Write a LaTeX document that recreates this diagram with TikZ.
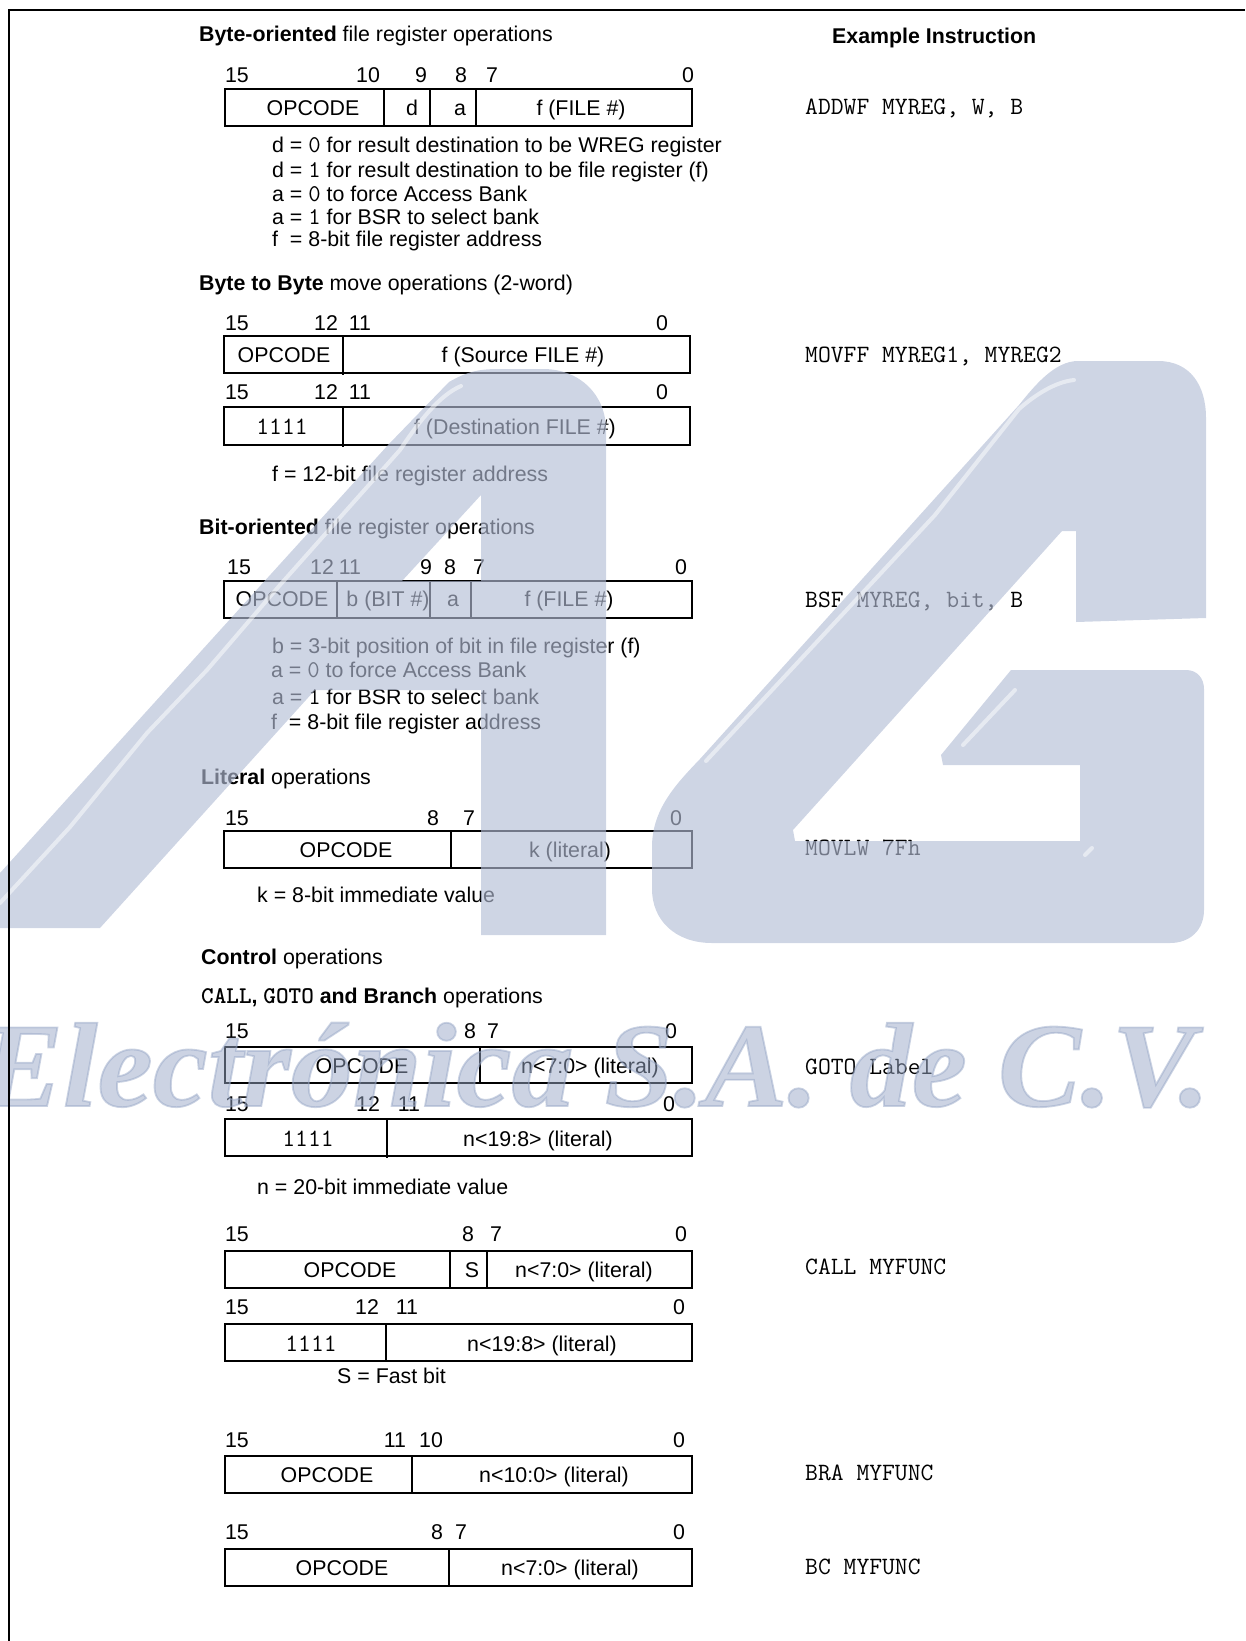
\documentclass[tikz,border=0pt]{standalone}
\usepackage{xcolor}
\usepackage{fontspec}
\setmainfont{Liberation Sans}
\newfontfamily\markfont[FakeBold=1.5]{Liberation Serif Bold Italic}
\usetikzlibrary{positioning}
\definecolor{markblue}{HTML}{B3BDD5}
\definecolor{wordblue}{HTML}{99A8C7}
\newcommand{\codefig}[1]{{\ttfamily\fontsize{24}{25}\selectfont #1}}

\begin{document}
\begin{tikzpicture}[
    x=1pt, y=-1pt,
    txt/.style={inner sep=0pt, text height=17pt, text depth=2pt, font=\fontsize{21.35}{25}\selectfont},
    heading/.style={txt, anchor=west},
    notes/.style={txt, anchor=west},
    bitno/.style={txt},
    cell/.style={txt},
    code/.style={inner sep=0pt, anchor=west, text height=17pt, text depth=2pt, font=\ttfamily\fontsize{24.9}{28}\selectfont},
    codecell/.style={code, anchor=center},
    regbox/.style={draw=black, line width=2.4pt},
    split/.style={draw=black, line width=1.6pt},
    frame/.style={draw=black, line width=2.6pt},
    logoshape/.style={fill=markblue, draw=none, opacity=0.64, even odd rule},
    glint/.style={draw=white, line width=4pt, opacity=0.5, line cap=round}
]
\useasboundingbox (0,0) rectangle (1245,1641);

\node[heading] (head1) at (199,34) {\textbf{Byte-oriented} file register operations};
\node[heading] (headex) at (832,36) {\textbf{Example Instruction}};
\node[bitno] (a15) at (237,75) {15};
\node[bitno] (a10) at (368,75) {10};
\node[bitno] (a9) at (421,75) {9};
\node[bitno] (a8) at (461,75) {8};
\node[bitno] (a7) at (492,75) {7};
\node[bitno] (a0) at (688,75) {0};
\draw[regbox] (225,89) rectangle (692,126);
\draw[split] (384,89) -- (384,126);
\draw[split] (430,89) -- (430,126);
\draw[split] (476,89) -- (476,126);
\node[cell] (aop) at (313,108) {OPCODE};
\node[cell] (ad) at (412,108) {d};
\node[cell] (aa) at (460,108) {a};
\node[cell] (af) at (581,108) {f (FILE \#)};
\node[code] (axa) at (805,107) {ADDWF MYREG, W, B};
\node[notes] (an1) at (272,145) {d = \codefig{0} for result destination to be WREG register};
\node[notes] (an2) at (272,170) {d = \codefig{1} for result destination to be file register (f)};
\node[notes] (an3) at (272,194) {a = \codefig{0} to force Access Bank};
\node[notes] (an4) at (272,217) {a = \codefig{1} for BSR to select bank};
\node[notes] (an5) at (272,239) {f\ \ = 8-bit file register address};

\node[heading] (head2) at (199,283) {\textbf{Byte to Byte} move operations (2-word)};
\node[bitno] (b15) at (237,323) {15};
\node[bitno] (b12) at (326,323) {12};
\node[bitno] (b11) at (360,323) {11};
\node[bitno] (b0) at (662,323) {0};
\draw[regbox] (224,336) rectangle (690,373);
\draw[split] (343,336) -- (343,375);
\node[cell] (bop) at (284,355) {OPCODE};
\node[cell] (bf) at (523,355) {f (Source FILE \#)};
\node[code] (bxa) at (805,355) {MOVFF MYREG1, MYREG2};
\node[bitno] (c15) at (237,392) {15};
\node[bitno] (c12) at (326,392) {12};
\node[bitno] (c11) at (360,392) {11};
\node[bitno] (c0) at (662,392) {0};
\draw[regbox] (224,407) rectangle (690,445);
\draw[split] (343,407) -- (343,447);
\node[codecell] (cop) at (282,427) {1111};
\node[cell] (cf) at (515,427) {f (Destination FILE \#)};
\node[notes] (cn1) at (272,474) {f = 12-bit file register address};

\node[heading] (head3) at (199,527) {\textbf{Bit-oriented} file register operations};
\node[bitno] (d15) at (239,567) {15};
\node[bitno] (d12) at (322,567) {12};
\node[bitno] (d11) at (350,567) {11};
\node[bitno] (d9) at (426,567) {9};
\node[bitno] (d8) at (450,567) {8};
\node[bitno] (d7) at (479,567) {7};
\node[bitno] (d0) at (681,567) {0};
\draw[regbox] (224,581) rectangle (692,618);
\draw[split] (337,581) -- (337,618);
\draw[split] (430,581) -- (430,618);
\draw[split] (471,581) -- (471,618);
\node[cell] (dop) at (282,599) {OPCODE};
\node[cell] (db) at (388,599) {b (BIT \#)};
\node[cell] (da) at (453,599) {a};
\node[cell] (df) at (569,599) {f (FILE \#)};
\node[code] (dxa) at (805,600) {BSF MYREG, bit, B};
\node[notes] (dn1) at (272,646) {b = 3-bit position of bit in file register (f)};
\node[notes] (dn2) at (271,670) {a = \codefig{0} to force Access Bank};
\node[notes] (dn3) at (272,697) {a = \codefig{1} for BSR to select bank};
\node[notes] (dn4) at (271,722) {f\ \ = 8-bit file register address};

\node[heading] (head4) at (201,777) {\textbf{Literal} operations};
\node[bitno] (e15) at (237,818) {15};
\node[bitno] (e8) at (433,818) {8};
\node[bitno] (e7) at (469,818) {7};
\node[bitno] (e0) at (676,818) {0};
\draw[regbox] (224,831) rectangle (692,868);
\draw[split] (451,831) -- (451,868);
\node[cell] (eop) at (346,850) {OPCODE};
\node[cell] (ek) at (570,850) {k (literal)};
\node[code] (exa) at (805,848) {MOVLW 7Fh};
\node[notes] (en1) at (257,895) {k = 8-bit immediate value};

\node[heading] (head5) at (201,957) {\textbf{Control} operations};
\node[heading] (head6) at (201,996) {\textbf{\codefig{CALL}, \codefig{GOTO} and Branch} operations};
\node[bitno] (f15) at (237,1031) {15};
\node[bitno] (f8) at (470,1031) {8};
\node[bitno] (f7) at (493,1031) {7};
\node[bitno] (f0) at (671,1031) {0};
\draw[regbox] (225,1047) rectangle (692,1083);
\draw[split] (480,1047) -- (480,1083);
\node[cell] (fop) at (362,1066) {OPCODE};
\node[cell] (fn) at (590,1066) {n<7:0> (literal)};
\node[code] (fxa) at (805,1067) {GOTO Label};
\node[bitno] (g15) at (237,1104) {15};
\node[bitno] (g12) at (368,1104) {12};
\node[bitno] (g11) at (409,1104) {11};
\node[bitno] (g0) at (669,1104) {0};
\draw[regbox] (225,1119) rectangle (692,1156);
\draw[split] (387,1119) -- (387,1158);
\node[codecell] (gop) at (308,1139) {1111};
\node[cell] (gn) at (538,1139) {n<19:8> (literal)};
\node[notes] (gn1) at (257,1187) {n = 20-bit immediate value};

\node[bitno] (h15) at (237,1234) {15};
\node[bitno] (h8) at (468,1234) {8};
\node[bitno] (h7) at (496,1234) {7};
\node[bitno] (h0) at (681,1234) {0};
\draw[regbox] (225,1251) rectangle (692,1288);
\draw[split] (450,1251) -- (450,1288);
\draw[split] (487,1251) -- (487,1288);
\node[cell] (hop) at (350,1270) {OPCODE};
\node[cell] (hs) at (472,1270) {S};
\node[cell] (hn) at (584,1270) {n<7:0> (literal)};
\node[code] (hxa) at (805,1267) {CALL MYFUNC};
\node[bitno] (i15) at (237,1307) {15};
\node[bitno] (i12) at (367,1307) {12};
\node[bitno] (i11) at (407,1307) {11};
\node[bitno] (i0) at (679,1307) {0};
\draw[regbox] (225,1324) rectangle (692,1361);
\draw[split] (386,1324) -- (386,1361);
\node[codecell] (iop) at (311,1344) {1111};
\node[cell] (in) at (542,1344) {n<19:8> (literal)};
\node[notes] (in1) at (337,1376) {S = Fast bit};

\node[bitno] (j15) at (237,1440) {15};
\node[bitno] (j11) at (395,1440) {11};
\node[bitno] (j10) at (431,1440) {10};
\node[bitno] (j0) at (679,1440) {0};
\draw[regbox] (225,1456) rectangle (692,1493);
\draw[split] (412,1456) -- (412,1493);
\node[cell] (jop) at (327,1475) {OPCODE};
\node[cell] (jn) at (554,1475) {n<10:0> (literal)};
\node[code] (jxa) at (805,1473) {BRA MYFUNC};

\node[bitno] (k15) at (237,1532) {15};
\node[bitno] (k8) at (437,1532) {8};
\node[bitno] (k7) at (461,1532) {7};
\node[bitno] (k0) at (679,1532) {0};
\draw[regbox] (225,1549) rectangle (692,1586);
\draw[split] (449,1549) -- (449,1586);
\node[cell] (kop) at (342,1568) {OPCODE};
\node[cell] (kn) at (570,1568) {n<7:0> (literal)};
\node[code] (kxa) at (805,1567) {BC MYFUNC};

\path[logoshape] (0,873) -- (261,585) -- (388,445) -- (449,382) .. controls (468,371) and (480,369) .. (500,369) -- (543,369) .. controls (580,369) and (606,395) .. (606,430) -- (606,935) -- (481,935) -- (481,690) -- (315,690) -- (100,928) -- (0,928) -- cycle
    (481,495) -- (481,581) -- (402,581) -- cycle;
\path[logoshape] (1078,361) -- (1158,361) .. controls (1190,361) and (1206,385) .. (1206,418) -- (1206,618) -- (1076,622) -- (1076,531) -- (1062,531) -- (793,830) -- (795,841) -- (1080,841) -- (1080,765) -- (943,765) -- (941,755) -- (1011,670) -- (1186,670) .. controls (1197,670) and (1204,678) .. (1204,689) -- (1204,910) .. controls (1204,930) and (1190,943) .. (1170,943) -- (712,943) .. controls (675,943) and (652,920) .. (652,889) -- (652,847) .. controls (652,810) and (675,785) .. (700,759) -- (1019,405) .. controls (1035,385) and (1055,361) .. (1078,361) -- cycle;
\draw[glint] (0,903) -- (70,827) -- (147,733) -- (207,670) -- (280,585) -- (400,450) .. controls (420,420) and (440,395) .. (461,386);
\draw[glint] (706,761) -- (935,515) -- (1019,409) .. controls (1035,395) and (1055,382) .. (1074,380);
\draw[glint] (963,745) -- (1015,690);
\draw[glint] (1085,855) -- (1092,848);
\node[inner sep=0pt, anchor=base west, text=wordblue, opacity=0.5, xscale=1.035, font=\markfont\fontsize{120}{125}\selectfont] (elec) at (-20,1106) {Electrónica S.A. de C.V.};

\draw[frame] (9,1641) -- (9,10) -- (1245,10);
\end{tikzpicture}
\end{document}
